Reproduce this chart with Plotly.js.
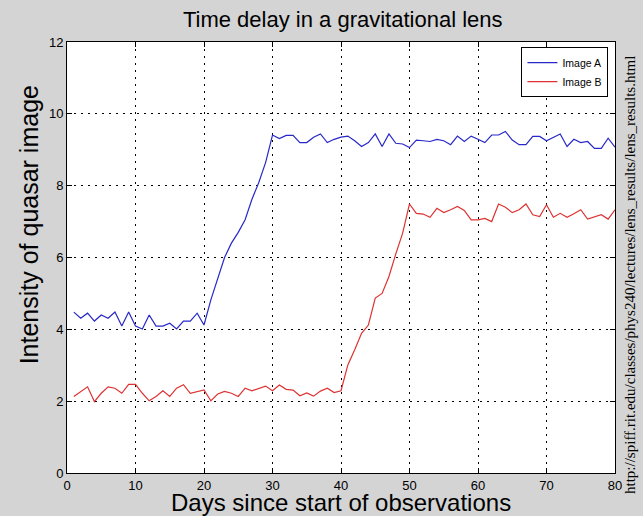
<!DOCTYPE html>
<html>
<head>
<meta charset="utf-8">
<script src="https://cdn.plot.ly/plotly-3.0.1.min.js"></script>
<style>html,body{margin:0;padding:0;background:#d4d4d4;}</style>
</head>
<body>
<div id="chart" style="width:643px;height:516px;"></div>
<script>
const days = [];
for (let d = 1; d <= 80; d++) days.push(d);

const imageA = [
  4.48, 4.31, 4.45, 4.23, 4.40, 4.31, 4.48, 4.09, 4.48, 4.09,
  4.01, 4.40, 4.09, 4.09, 4.17, 4.01, 4.23, 4.23, 4.45, 4.12,
  4.82, 5.42, 6.00, 6.40, 6.70, 7.05, 7.62, 8.09, 8.65, 9.41,
  9.31, 9.40, 9.40, 9.20, 9.20, 9.35, 9.44, 9.20, 9.29, 9.35,
  9.38, 9.25, 9.09, 9.20, 9.44, 9.09, 9.44, 9.18, 9.16, 9.06,
  9.27, 9.25, 9.23, 9.29, 9.25, 9.14, 9.38, 9.23, 9.38, 9.29,
  9.20, 9.41, 9.41, 9.51, 9.27, 9.14, 9.14, 9.37, 9.37, 9.25,
  9.35, 9.44, 9.09, 9.29, 9.20, 9.23, 9.04, 9.04, 9.32, 9.07
];

const imageB = [
  2.13, 2.27, 2.40, 1.99, 2.22, 2.40, 2.36, 2.22, 2.47, 2.47,
  2.22, 2.01, 2.13, 2.29, 2.13, 2.36, 2.46, 2.22, 2.27, 2.31,
  2.01, 2.20, 2.27, 2.22, 2.13, 2.36, 2.29, 2.36, 2.42, 2.29,
  2.45, 2.33, 2.31, 2.15, 2.23, 2.14, 2.28, 2.36, 2.24, 2.29,
  3.01, 3.43, 3.89, 4.12, 4.87, 5.00, 5.47, 6.10, 6.68, 7.49,
  7.23, 7.21, 7.12, 7.37, 7.25, 7.33, 7.42, 7.31, 7.05, 7.05,
  7.09, 7.00, 7.49, 7.40, 7.25, 7.33, 7.49, 7.19, 7.14, 7.47,
  7.12, 7.23, 7.12, 7.22, 7.33, 7.07, 7.14, 7.19, 7.07, 7.33
];

const xTicks = [0, 10, 20, 30, 40, 50, 60, 70, 80];
const yTicks = [0, 2, 4, 6, 8, 10, 12];

const traces = [
  {x: days, y: imageA, type: 'scatter', mode: 'lines', name: 'Image A',
   line: {color: 'rgb(40,40,200)', width: 1.2}},
  {x: days, y: imageB, type: 'scatter', mode: 'lines', name: 'Image B',
   line: {color: 'rgb(222,50,50)', width: 1.2}}
];

const sans = 'Liberation Sans, Arial, sans-serif';
const tickFont = {family: sans, size: 13, color: '#000'};
const axisCommon = {
  showline: true, linecolor: '#000', linewidth: 1, mirror: 'ticks',
  ticks: 'inside', ticklen: 5, tickcolor: '#000',
  showgrid: true, gridcolor: '#000', gridwidth: 1, griddash: '1.5px,5.5px',
  zeroline: false, tickfont: tickFont
};

const layout = {
  width: 643, height: 516,
  paper_bgcolor: '#d4d4d4', plot_bgcolor: '#ffffff',
  margin: {l: 67, r: 28, t: 42, b: 43},
  title: {text: 'Time delay in a gravitational lens', x: 0.533, xanchor: 'center', y: 0.963, yanchor: 'middle',
          font: {family: sans, size: 22, color: '#000'}},
  xaxis: Object.assign({}, axisCommon, {
    range: [0, 80], tickvals: xTicks, ticktext: xTicks.map(String)
  }),
  yaxis: Object.assign({}, axisCommon, {
    range: [0, 12], tickvals: yTicks, ticktext: yTicks.map(String)
  }),
  legend: {x: 0.988, y: 0.988, xanchor: 'right', yanchor: 'top',
           bgcolor: '#ffffff', bordercolor: '#000', borderwidth: 1,
           font: {family: sans, size: 10.5, color: '#000'},
           tracegroupgap: 0, itemwidth: 30},
  showlegend: true,
  annotations: [
    {
      text: 'Days since start of observations',
      xref: 'paper', yref: 'paper', x: 0.5, y: -0.069, xanchor: 'center', yanchor: 'middle',
      showarrow: false, font: {family: sans, size: 24, color: '#000'}
    },
    {
      text: 'Intensity of quasar image',
      xref: 'paper', yref: 'paper', x: -0.069, y: 0.575, xanchor: 'center', yanchor: 'middle',
      textangle: -90, showarrow: false, font: {family: sans, size: 25, color: '#000'}
    },
    {
      text: 'http://spiff.rit.edu/classes/phys240/lectures/lens_results/lens_results.html',
      xref: 'paper', yref: 'paper', x: 1.027, y: 0.459, xanchor: 'center', yanchor: 'middle',
      textangle: -90, showarrow: false,
      font: {family: 'Liberation Serif, DejaVu Serif, serif', size: 15, color: '#000'}
    }
  ]
};

Plotly.newPlot('chart', traces, layout, {displayModeBar: false, staticPlot: true});
</script>
</body>
</html>
